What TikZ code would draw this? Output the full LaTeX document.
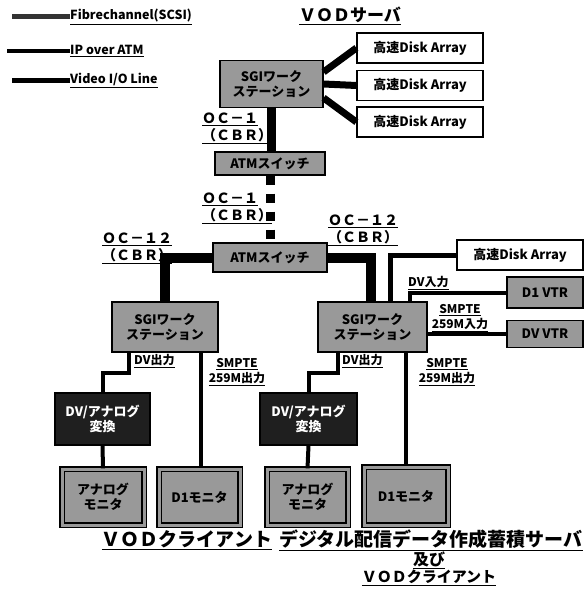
\documentclass[tikz,border=0pt]{standalone}
\usepackage{fontspec}
\setmainfont{Noto Sans CJK JP}
\newcommand{\ul}[1]{\underline{#1}}

\tikzset{
  gbox/.style={draw, line width=1.2pt, fill=black!40, align=center, inner sep=1pt,
    font=\bfseries\fontsize{13}{15}\selectfont},
  dbox/.style={gbox, fill=black!88, text=white},
  wbox/.style={draw, line width=1.2pt, fill=white, inner sep=1pt,
    font=\bfseries\fontsize{13}{15}\selectfont},
  mbox/.style={gbox, double=black!40, double distance=3pt},
  fibre/.style={line width=7pt},
  atmline/.style={line width=9pt},
  video/.style={line width=4pt},
  lbl/.style={font=\bfseries\fontsize{12}{15}\selectfont, inner sep=0pt, align=left},
  oclbl/.style={font=\bfseries\fontsize{14}{17}\selectfont, inner sep=0pt, align=left, anchor=north west}
}

\begin{document}
\begin{tikzpicture}[x=1pt,y=-1pt]
\useasboundingbox (0,0) rectangle (588,594);

% legend
\node[lbl, font=\bfseries\fontsize{12.5}{15}\selectfont, anchor=west] (lgfc) at (70,17) {\ul{Fibrechannel(SCSI)}};
\node[lbl, font=\bfseries\fontsize{12.5}{15}\selectfont, anchor=west] (lgip) at (70,51) {\ul{IP over ATM}};
\node[lbl, font=\bfseries\fontsize{12.5}{15}\selectfont, anchor=west] (lgvd) at (70,80) {\ul{Video I/O Line}};
\draw[line width=5pt, black!80] (lgfc.west) -- ++(-58,0);
\draw[line width=4pt] (lgip.west) -- ++(-63,0);
\draw[line width=5pt] (lgvd.west) -- ++(-58,0);

\node[font=\bfseries\fontsize{17}{19}\selectfont, inner sep=0pt] (ttl) at (350,16) {\ul{ＶＯＤサーバ}};

% VOD server
\node[gbox, minimum width=103pt, minimum height=47pt] (srv) at (271.5,84) {SGIワーク\\ステーション};
\node[wbox, minimum width=126pt, minimum height=30pt] (da1) at (420,48) {高速Disk Array};
\node[wbox, minimum width=126pt, minimum height=30pt] (da2) at (420,85.5) {高速Disk Array};
\node[wbox, minimum width=126pt, minimum height=30pt] (da3) at (420,122) {高速Disk Array};
\node[gbox, minimum width=110pt, minimum height=23pt] (atm1) at (270,163.5) {ATMスイッチ};
\node[gbox, minimum width=114pt, minimum height=29pt] (atm2) at (270,257.5) {ATMスイッチ};

% workstations
\node[gbox, minimum width=106pt, minimum height=50pt] (wsl) at (165,327) {SGIワーク\\ステーション};
\node[gbox, minimum width=109pt, minimum height=50pt] (wsr) at (372.5,327) {SGIワーク\\ステーション};
\node[wbox, minimum width=126pt, minimum height=30pt] (da4) at (520,255) {高速Disk Array};
\node[gbox, minimum width=76pt, minimum height=31pt] (d1vtr) at (545,292.5) {D1 VTR};
\node[gbox, minimum width=76pt, minimum height=27pt] (dvvtr) at (545,334) {DV VTR};

% clients
\node[dbox, minimum width=95pt, minimum height=52pt] (convl) at (102.5,419) {DV/アナログ\\変換};
\node[dbox, minimum width=97pt, minimum height=52pt] (convr) at (308.5,419) {DV/アナログ\\変換};
\node[mbox, minimum width=82pt, minimum height=56pt] (monl) at (103,497) {アナログ\\モニタ};
\node[mbox, minimum width=81pt, minimum height=56pt] (d1l) at (199.5,497) {D1モニタ};
\node[mbox, minimum width=81pt, minimum height=56pt] (monr) at (307.5,497) {アナログ\\モニタ};
\node[mbox, minimum width=84pt, minimum height=58pt] (d1r) at (406,496) {D1モニタ};

% labels
\node[oclbl] (oc1a) at (202,113) {\ul{ＯＣ－１}\\\ul{（ＣＢＲ）}};
\node[oclbl] (oc1b) at (202,193) {\ul{ＯＣ－１}\\\ul{（ＣＢＲ）}};
\node[oclbl] (oc12l) at (102,233) {\ul{ＯＣ－１２}\\\ul{（ＣＢＲ）}};
\node[oclbl] (oc12r) at (328,215) {\ul{ＯＣ－１２}\\\ul{（ＣＢＲ）}};
\node[lbl, anchor=north west] (dvin) at (408,276) {\ul{DV入力}};
\node[lbl, align=center] (sdin) at (460,318) {\ul{SMPTE}\\\ul{259M入力}};
\node[lbl, anchor=north west] (dvoutl) at (134,354) {\ul{DV出力}};
\node[lbl, anchor=north west] (dvoutr) at (342,354) {\ul{DV出力}};
\node[lbl, align=center] (sdoutl) at (237,372) {\ul{SMPTE}\\\ul{259M出力}};
\node[lbl, align=center] (sdoutr) at (447,372) {\ul{SMPTE}\\\ul{259M出力}};

\node[font=\bfseries\fontsize{19}{21}\selectfont, inner sep=0pt] (vodc) at (187,540) {\ul{ＶＯＤクライアント}};
\node[font=\bfseries\fontsize{19}{21}\selectfont, inner sep=0pt] (dsrv) at (431,540) {\ul{デジタル配信データ作成蓄積サーバ}};
\node[font=\bfseries\fontsize{16}{18}\selectfont, inner sep=0pt] (oyobi) at (429,560) {\ul{及び}};
\node[font=\bfseries\fontsize{15}{17}\selectfont, inner sep=0pt] (vodc2) at (429,578) {\ul{ＶＯＤクライアント}};

% connections
\draw[fibre] (srv.13) -- (da1.west);
\draw[fibre] (srv.east) -- (da2.west);
\draw[fibre] (srv.-15) -- (da3.west);
\draw[atmline] (srv.south) -- (srv.south |- atm1.north);
\draw[atmline, dash pattern=on 9pt off 9pt] (atm1.south) -- (atm2.north);
\draw[atmline, line width=10pt] (atm2.west) -| (wsl.north);
\draw[atmline, line width=10pt] (atm2.east) -| ([xshift=-2pt]wsr.north);
\draw[line width=5pt] ([xshift=18pt]wsr.north) |- (da4.west);
\draw[video] ([xshift=37pt]wsr.north) |- (d1vtr.west);
\draw[video] (dvvtr.west) -- (dvvtr.west -| wsr.east);

\draw[video] ([xshift=-36pt]wsl.south) -- ++(0,20) -| (convl.north);
\draw[video] ([xshift=36pt]wsl.south) -- ([xshift=36pt]wsl.south |- d1l.north);
\draw[video] (convl.south) -- (monl.north);
\draw[video] ([xshift=-34.5pt]wsr.south) -- ++(0,20) -| (convr.north);
\draw[video] ([xshift=33.5pt]wsr.south) -- ([xshift=33.5pt]wsr.south |- d1r.north);
\draw[video] (convr.south) -- (monr.north);

\end{tikzpicture}
\end{document}
